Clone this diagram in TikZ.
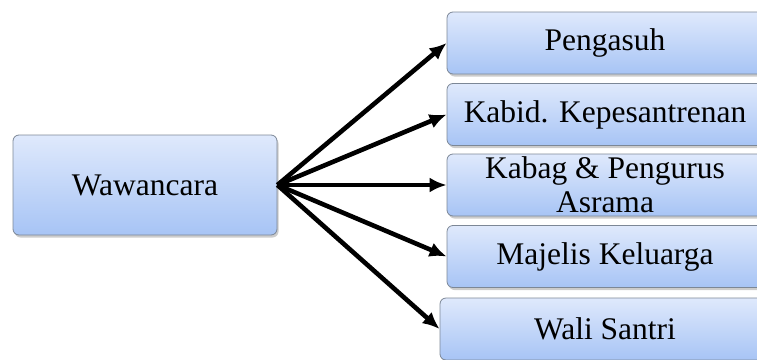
\documentclass[tikz,border=0pt]{standalone}
\usepackage{fontspec}
\setmainfont{Liberation Serif}
\usepackage{tikz}
\usetikzlibrary{arrows.meta, shadows}

\definecolor{boxtop}{HTML}{DFE9FC}
\definecolor{boxbottom}{HTML}{A7C4F5}
\definecolor{boxline}{HTML}{7C8796}

\begin{document}
\begin{tikzpicture}[x=1pt, y=-1pt,
    box/.style = {draw=boxline, line width=0.8pt, rounded corners=6pt,
        top color=boxtop, bottom color=boxbottom, align=center, inner sep=0pt,
        font=\fontsize{31.5}{34}\selectfont,
        drop shadow={opacity=0.4, shadow xshift=1.5pt, shadow yshift=-2.5pt}},
    main/.style = {box, minimum width=264pt, minimum height=100pt},
    sub/.style = {box, minimum width=316pt, minimum height=62pt},
    arr/.style = {-{Latex[length=17pt, width=15pt]}, line width=4.6pt}]
            \useasboundingbox (0,0) rectangle (757,359);

            \node[main] (wwc) at (145,185) {Wawancara};
            \node[sub] (kabag) [right of=wwc, node distance=460pt] {Kabag \& Pengurus\\Asrama};
            \node[sub] (kabid) [above of=kabag, node distance=70.5pt] {Kabid. Kepesantrenan};
            \node[sub] (pengasuh) [above of=kabid, node distance=71.5pt] {Pengasuh};
            \node[sub] (majelis) [below of=kabag, node distance=71.5pt] {Majelis Keluarga};
            \node[sub, minimum width=330pt] (wali) [below of=majelis, node distance=72.5pt] {Wali Santri};

            \path[arr] (wwc.east) edge (pengasuh.west);
            \path[arr] (wwc.east) edge (kabid.west);
            \path[arr] (wwc.east) edge (kabag.west);
            \path[arr] (wwc.east) edge (majelis.west);
            \path[arr] (wwc.east) edge (wali.west);
        \end{tikzpicture}
\end{document}
